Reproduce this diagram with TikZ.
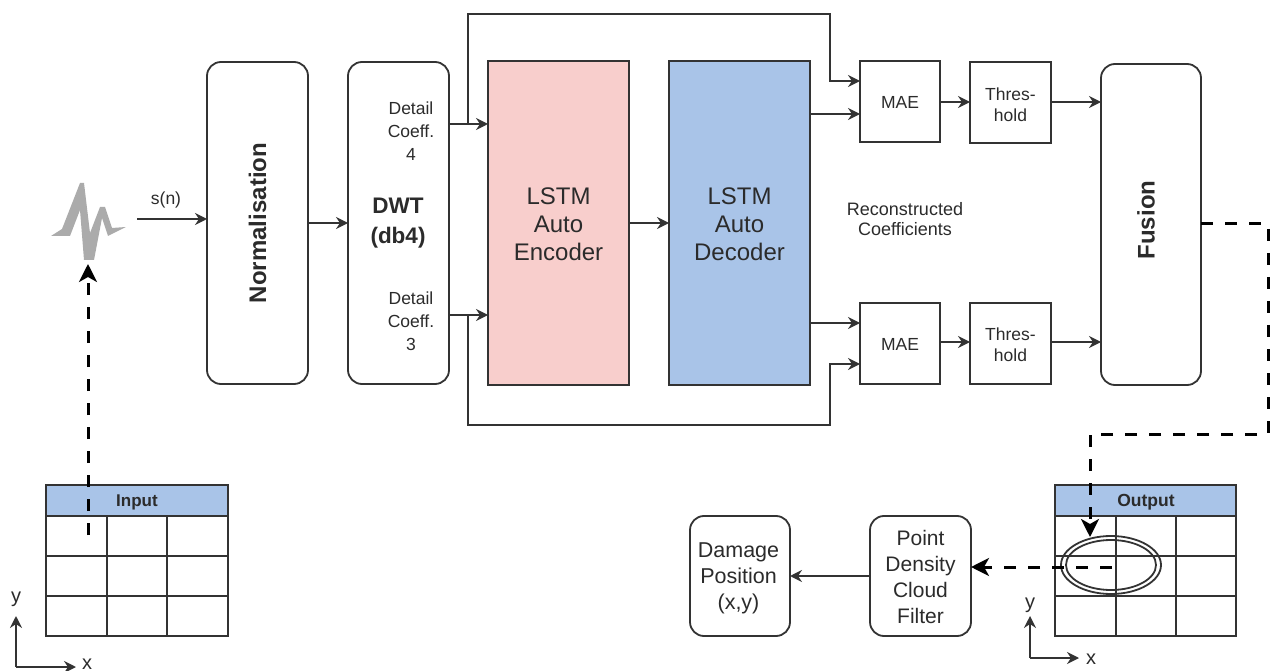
\documentclass[tikz,border=0pt]{standalone}
\usepackage{fontspec}
\setmainfont{Liberation Sans}
\usetikzlibrary{arrows.meta,positioning,calc}
\definecolor{edge}{HTML}{333333}
\definecolor{txt}{HTML}{2B2B2B}
\definecolor{pinkfill}{HTML}{F8CECC}
\definecolor{bluefill}{HTML}{A9C4E8}
\definecolor{siggray}{HTML}{ABABAB}
\newcommand{\fz}[2]{\fontsize{#1}{#2}\selectfont}
\tikzset{
  box/.style={draw=edge,line width=1.8pt,inner sep=0pt,outer sep=0pt,align=center,text=txt,anchor=north west},
  roundbox/.style={box,rounded corners=14pt},
  conn/.style={draw=edge,line width=1.8pt,-{Stealth[length=12pt,width=12pt,inset=4pt]}},
  dashconn/.style={draw=black,line width=3pt,dash pattern=on 12pt off 12pt,-{Stealth[length=18pt,width=18pt,inset=5pt]}},
  gridline/.style={draw=edge,line width=1.8pt},
  lab/.style={inner sep=0pt,outer sep=0pt,align=center,text=txt},
}
\begin{document}
\begin{tikzpicture}[x=1pt,y=-1pt]
\useasboundingbox (0,0) rectangle (1270,671);

% main boxes
\node[roundbox,minimum width=101pt,minimum height=322pt] (norm) at (207,62) {\rotatebox{90}{\fz{24}{24}\bfseries Normalisation}};
\node[roundbox,minimum width=101pt,minimum height=322pt] (dwt) at (348,62) {};
\node[box,fill=pinkfill,minimum width=141pt,minimum height=324pt] (enc) at (488,61) {};
\node[box,fill=bluefill,minimum width=141pt,minimum height=324pt] (dec) at (669,61) {};
\node[box,minimum width=80pt,minimum height=81pt] (mae1) at (860,61) {};
\node[box,minimum width=81pt,minimum height=81pt] (thr1) at (970,62) {};
\node[box,minimum width=80pt,minimum height=81pt] (mae2) at (860,303) {};
\node[box,minimum width=81pt,minimum height=81pt] (thr2) at (970,303) {};
\node[roundbox,minimum width=100pt,minimum height=321pt] (fus) at (1101,64) {};
\node[roundbox,minimum width=100pt,minimum height=120pt] (dmg) at (690,516) {};
\node[roundbox,minimum width=101pt,minimum height=120pt] (pdc) at (870,516) {};

% texts
\node[lab,font=\fz{17.5}{21}] (mae1lab) at (900,102.5) {MAE};
\node[lab,font=\fz{17.5}{21}] (thr1lab) at (1010.5,104.5) {Thres-\\hold};
\node[lab,font=\fz{17.5}{21}] (mae2lab) at (900,344.5) {MAE};
\node[lab,font=\fz{17.5}{21}] (thr2lab) at (1010.5,345) {Thres-\\hold};
\node[lab,font=\fz{24}{24}\bfseries,rotate=90] (fuslab) at (1146,220) {Fusion};
\node[lab,font=\fz{21.5}{26}] (dmglab) at (738.5,578) {Damage\\Position\\(x,y)};
\node[lab,font=\fz{21}{26}] (pdclab) at (920.5,577) {Point\\Density\\Cloud\\Filter};
\node[lab,font=\fz{24}{28}] (enclab) at (558.5,224) {LSTM\\Auto\\Encoder};
\node[lab,font=\fz{24}{28}] (declab) at (739.5,224) {LSTM\\Auto\\Decoder};
\node[lab,font=\fz{22.5}{30}\bfseries] (dwtlab) at (398,223) {DWT\\(db4)};
\node[lab,font=\fz{17.5}{23}] (d4) at (411,131) {Detail\\Coeff.\\4};
\node[lab,font=\fz{17.5}{23}] (d3) at (411,321) {Detail\\Coeff.\\3};
\node[lab,font=\fz{18}{20}] (rec) at (905,219) {Reconstructed\\Coefficients};
\node[lab,font=\fz{17.5}{20}] (sn) at (166,200) {s(n)};

% signal glyph
\fill[siggray] (51,236) -- (62,229) -- (80,183) -- (84,183) -- (90,233) -- (100,207) -- (105,207) -- (112,228) -- (126,227) -- (108,236) -- (102,218) -- (94,260) -- (84,260) -- (80,210) -- (70,236) -- cycle;
\coordinate (sigout) at (137,219);
\coordinate (sigin) at (88,264);

% input table
\node[box,fill=bluefill,minimum width=182pt,minimum height=31pt] (inhead) at (46,485) {};
\node[lab,font=\fz{17}{20}\bfseries] (inlab) at (137,502) {Input};
\node[box,minimum width=182pt,minimum height=120pt] (inbody) at (46,516) {};
\draw[gridline] (107,516) -- (107,636) (167,516) -- (167,636) (46,556) -- (228,556) (46,596) -- (228,596);

% output table
\node[box,fill=bluefill,minimum width=181pt,minimum height=31pt] (outhead) at (1055,485) {};
\node[lab,font=\fz{17.5}{20}\bfseries] (outlab) at (1146,502) {Output};
\node[box,minimum width=181pt,minimum height=120pt] (outbody) at (1055,516) {};
\draw[gridline] (1116,516) -- (1116,636) (1176,516) -- (1176,636) (1055,556) -- (1236,556) (1055,596) -- (1236,596);
\draw[edge,line width=1.8pt] (1111,565) ellipse [x radius=50,y radius=29];
\draw[edge,line width=1.8pt] (1111,565) ellipse [x radius=45,y radius=25];

% solid connectors
\draw[conn] (sigout) -- (norm.west |- sigout);
\draw[conn] (norm.east |- 0,223) -- (dwt.west |- 0,223);
\coordinate (j1) at (468,124);
\coordinate (j2) at (468,315);
\draw[conn] (dwt.east |- j1) -- (enc.west |- j1);
\draw[conn] (dwt.east |- j2) -- (enc.west |- j2);
\draw[conn] (enc.east |- 0,223) -- (dec.west |- 0,223);
\coordinate (t1) at (830,14);
\coordinate (t2) at (830,425);
\draw[conn] (j1) -- (468,14) -- (t1) -- (830,81) -- (mae1.west |- 0,81);
\draw[conn] (j2) -- (468,425) -- (t2) -- (830,364) -- (mae2.west |- 0,364);
\draw[conn] (dec.east |- 0,114) -- (mae1.west |- 0,114);
\draw[conn] (dec.east |- 0,323) -- (mae2.west |- 0,323);
\draw[conn] (mae1.east |- 0,102) -- (thr1.west |- 0,102);
\draw[conn] (thr1.east |- 0,102) -- (fus.west |- 0,102);
\draw[conn] (mae2.east |- 0,342) -- (thr2.west |- 0,342);
\draw[conn] (thr2.east |- 0,342) -- (fus.west |- 0,342);
\draw[conn] (pdc.west |- 0,576) -- (dmg.east |- 0,576);

% axes
\coordinate (ax1) at (16,667);
\coordinate (ax1y) at (16,616);
\coordinate (ax1x) at (76,667);
\draw[conn] (ax1) -- (ax1y);
\draw[conn] (ax1) -- (ax1x);
\node[lab,font=\fz{20}{20}] (yl1) at (16,599) {y};
\node[lab,font=\fz{20}{20}] (xl1) at (87,664) {x};
\coordinate (ax2) at (1030,658);
\coordinate (ax2y) at (1030,616);
\coordinate (ax2x) at (1079,658);
\draw[conn] (ax2) -- (ax2y);
\draw[conn] (ax2) -- (ax2x);
\node[lab,font=\fz{20}{20}] (yl2) at (1030,605) {y};
\node[lab,font=\fz{20}{20}] (xl2) at (1091,659) {x};

% dashed connectors
\coordinate (instart) at (88,535);
\draw[dashconn] (instart) -- (sigin);
\coordinate (c1) at (1268,224);
\coordinate (c2) at (1268,434);
\coordinate (c3) at (1090,434);
\coordinate (c4) at (1090,537);
\draw[dashconn] (fus.east |- c1) -- (c1) -- (c2) -- (c3) -- (c4);
\coordinate (elstart) at (1112,567);
\draw[dashconn] (elstart) -- (pdc.east |- elstart);
\end{tikzpicture}
\end{document}
